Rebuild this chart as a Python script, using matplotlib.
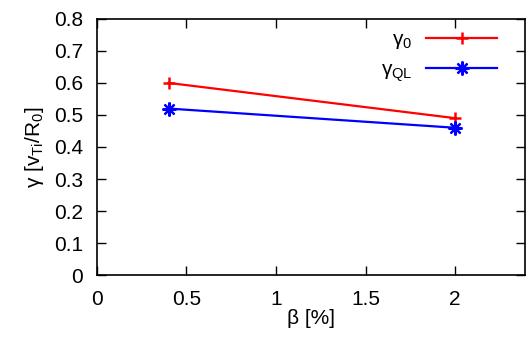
import matplotlib
matplotlib.use("Agg")
import matplotlib.pyplot as plt

# 데이터
beta = [0.4, 2.0]
gamma0 = [0.60, 0.49]
gamma_ql = [0.52, 0.46]

plt.rcParams['font.family'] = ['Liberation Sans', 'DejaVu Sans']
plt.rcParams['mathtext.fontset'] = 'custom'
plt.rcParams['mathtext.rm'] = 'Liberation Sans'
plt.rcParams['mathtext.it'] = 'Liberation Sans:italic'

fig = plt.figure(figsize=(5.27, 3.43), dpi=100)
ax = fig.add_axes([0.184, 0.198, 0.812, 0.747])

ax.plot(beta, gamma0, color='#ff0000', lw=1.6, marker='+', ms=9, mew=1.8,
        label='γ$_0$')
ax.plot(beta, gamma_ql, color='#0000ff', lw=1.6, marker=(8, 2, 0), ms=10, mew=1.6,
        label='γ$_\\mathrm{QL}$')

ax.set_xlim(0, 2.39)
ax.set_ylim(0, 0.8)
ax.set_xticks([0, 0.5, 1, 1.5, 2])
ax.set_xticklabels(['0', '0.5', '1', '1.5', '2'])
ax.set_yticks([0, 0.1, 0.2, 0.3, 0.4, 0.5, 0.6, 0.7, 0.8])
ax.set_yticklabels(['0', '0.1', '0.2', '0.3', '0.4', '0.5', '0.6', '0.7', '0.8'])
ax.tick_params(direction='in', length=6.5, width=1, top=True, right=True,
               labelsize=15)
ax.tick_params(axis='x', pad=11)
ax.tick_params(axis='y', pad=10)
for s in ax.spines.values():
    s.set_linewidth(1.2)

ax.set_xlabel('β [%]', fontsize=15, labelpad=0)
ax.set_ylabel('γ [v$_\\mathrm{Ti}$/R$_0$]', fontsize=15, labelpad=6)

ax.legend(loc='upper right', markerfirst=False, frameon=False, fontsize=15,
          handlelength=3.4, handletextpad=0.67, labelspacing=0.45,
          borderpad=0, borderaxespad=0, bbox_to_anchor=(0.935, 0.955))

plt.savefig('out.png', dpi=100)
